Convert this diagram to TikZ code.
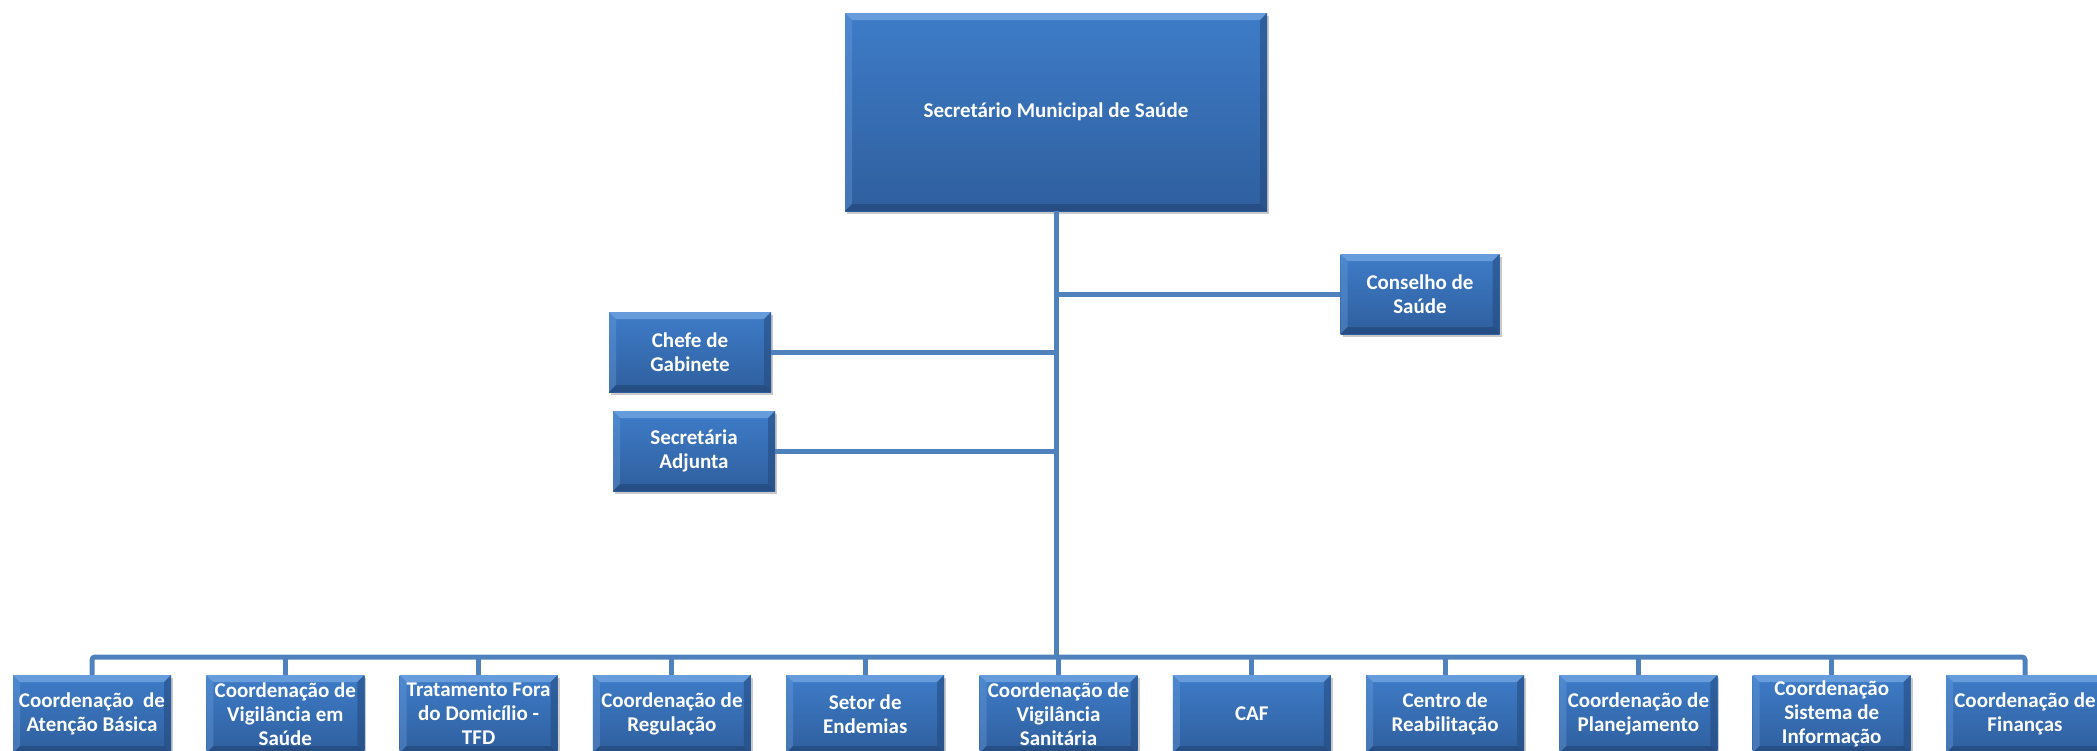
\documentclass[tikz,border=0pt]{standalone}
\usepackage{fontspec}
\setmainfont{Carlito}
\usetikzlibrary{shadows,calc}

\definecolor{facetop}{HTML}{3E7CC8}
\definecolor{facebot}{HTML}{2F5F9E}
\definecolor{bevlight}{HTML}{6FA2E0}
\definecolor{bevdark}{HTML}{23497C}
\definecolor{linkblue}{HTML}{4F81BD}

\newcommand{\bvw}{7pt}

\tikzset{
  orgbox/.style={
    rectangle, inner sep=2pt, align=center, text=white,
    font=\bfseries\fontsize{21}{24}\selectfont,
    top color=facetop, bottom color=facebot,
    drop shadow={shadow xshift=2pt, shadow yshift=-3pt, opacity=0.3, fill=black!70},
    path picture={
      \coordinate (nw) at (path picture bounding box.north west);
      \coordinate (ne) at (path picture bounding box.north east);
      \coordinate (sw) at (path picture bounding box.south west);
      \coordinate (se) at (path picture bounding box.south east);
      % bevelled rim: light on top and left, dark on the right and bottom
      \fill[bevlight, opacity=0.85] (nw) -- (ne) -- ([xshift=-\bvw,yshift=-\bvw]ne) -- ([xshift=\bvw,yshift=-\bvw]nw) -- cycle;
      \fill[bevlight, opacity=0.35] (nw) -- ([xshift=\bvw,yshift=-\bvw]nw) -- ([xshift=\bvw,yshift=\bvw]sw) -- (sw) -- cycle;
      \fill[bevdark, opacity=0.55] (ne) -- (se) -- ([xshift=-\bvw,yshift=\bvw]se) -- ([xshift=-\bvw,yshift=-\bvw]ne) -- cycle;
      \fill[bevdark, opacity=0.75] (sw) -- (se) -- ([xshift=-\bvw,yshift=\bvw]se) -- ([xshift=\bvw,yshift=\bvw]sw) -- cycle;
    }
  },
  chief/.style={orgbox, minimum width=422pt, minimum height=198pt},
  staff/.style={orgbox, minimum width=162pt, minimum height=80pt},
  unit/.style={orgbox, minimum width=158pt, minimum height=78pt},
  link/.style={draw=linkblue, line width=5pt},
}

\begin{document}
\begin{tikzpicture}[x=1pt, y=-1pt]
  \useasboundingbox (0,0) rectangle (2097,750);

  % head of the department
  \node[chief] (sms) at (1056,112) {Secretário Municipal de Saúde};

  % advisory and staff positions
  \node[staff, minimum width=159pt] (cons) at (1420,294) {Conselho de\\Saúde};
  \node[staff] (chefe) at (690,352) {Chefe de\\Gabinete};
  \node[staff] (adj) at (694,451) {Secretária\\Adjunta};

  % coordinations along the bottom row
  \foreach \i/\lbl in {
      1/{Coordenação\ \ de\\Atenção Básica},
      2/{Coordenação de\\Vigilância em\\Saúde},
      3/{Tratamento Fora\\do Domicílio -\\TFD},
      4/{Coordenação de\\Regulação},
      5/{Setor de\\Endemias},
      6/{Coordenação de\\Vigilância\\Sanitária},
      7/{CAF},
      8/{Centro de\\Reabilitação},
      9/{Coordenação de\\Planejamento},
      10/{Coordenação\\Sistema de\\Informação},
      11/{Coordenação de\\Finanças}}
    \node[unit] (u\i) at ({92+(\i-1)*193.3},714) {\lbl};

  % bus joining the bottom row
  \coordinate (bus) at (1056,657);

  \draw[link] (sms.south) -- (sms.south |- bus);
  \draw[link] (cons.west) -- (cons.west -| sms.south);
  \draw[link] (chefe.east) -- (chefe.east -| sms.south);
  \draw[link] (adj.east) -- (adj.east -| sms.south);
  \draw[link, rounded corners=3pt] (u1.north) |- (u11.north |- bus) -- (u11.north);
  \foreach \i in {2,...,10}
    \draw[link] (u\i.north) -- (u\i.north |- bus);
\end{tikzpicture}
\end{document}
